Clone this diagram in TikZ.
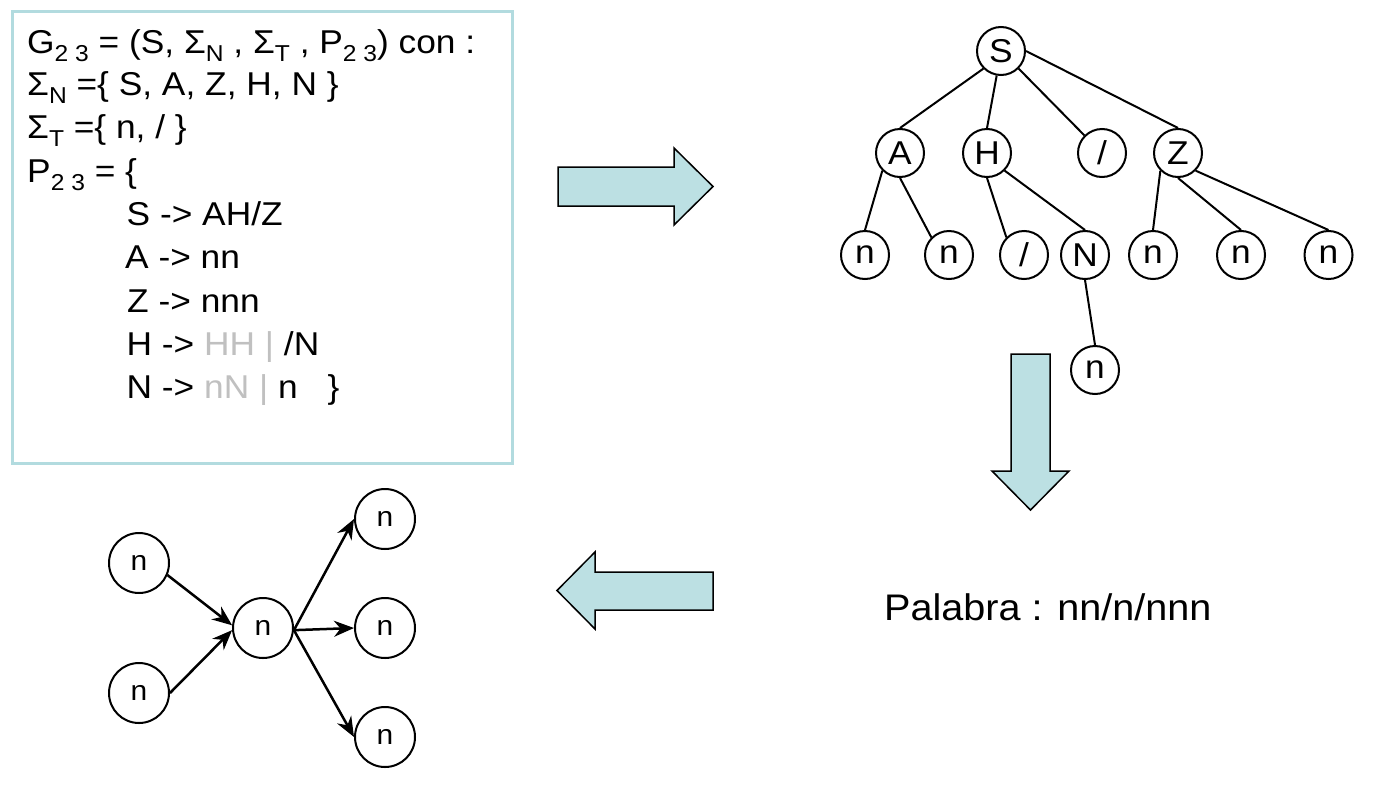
\documentclass[tikz,border=0pt]{standalone}
\usepackage{fontspec}
\setmainfont{Liberation Sans}[FakeStretch=1.07]
\usetikzlibrary{arrows.meta}
\definecolor{boxblue}{RGB}{178,219,223}
\definecolor{arrfill}{RGB}{188,224,227}
\definecolor{lightgr}{RGB}{192,192,192}
\newcommand\subx[1]{\raisebox{-8pt}{\fontsize{23pt}{23pt}\selectfont #1}}
\begin{document}
\begin{tikzpicture}[x=1pt,y=-1pt,
 boxtext/.style={anchor=base west, inner sep=0, font=\fontsize{33pt}{40pt}\selectfont},
 tnode/.style={circle, draw, line width=2pt, minimum size=48pt, inner sep=0, font=\fontsize{33pt}{33pt}\selectfont},
 gnode/.style={circle, draw, line width=2pt, minimum size=60pt, inner sep=0, font=\fontsize{28pt}{28pt}\selectfont},
 tedge/.style={line width=2pt},
 gedge/.style={line width=2.5pt, -{Stealth[length=20pt,width=16pt]}},
 blockarrow/.style={draw=black, fill=arrfill, line width=1.5pt, line join=miter}]
\useasboundingbox (0,0) rectangle (1380,790);
\fill[white] (0,0) rectangle (1380,790);

% grammar box
\draw[boxblue, line width=3pt] (12,11) rectangle (512,463);
\node[boxtext] (l1) at (27,53) {G\subx{2 3} = (S, Σ\subx{N} , Σ\subx{T} , P\subx{2 3}) con :};
\node[boxtext] (l2) at (27,95.5) {Σ\subx{N} =\{ S, A, Z, H, N \}};
\node[boxtext] (l3) at (27,138.5) {Σ\subx{T} =\{ n, / \}};
\node[boxtext] (l4) at (27,182) {P\subx{2 3} = \{};
\node[boxtext] (l5) at (126.5,225) {S -> AH/Z};
\node[boxtext] (l6) at (125,268) {A -> nn};
\node[boxtext] (l7) at (127,312) {Z -> nnn};
\node[boxtext] (l8) at (126.5,355) {H -> {\color{lightgr}HH |} /N};
\node[boxtext] (l9) at (126.5,398) {N -> {\color{lightgr}nN |} n\hspace*{30pt}\}};

% block arrows
\draw[blockarrow] (558,167) -- (674,167) -- (674,148) -- (713,186.5) -- (674,225) -- (674,206) -- (558,206) -- cycle;
\draw[blockarrow] (1011,354) -- (1050,354) -- (1050,471) -- (1069,471) -- (1030.5,510) -- (992,471) -- (1011,471) -- cycle;
\draw[blockarrow] (713,572) -- (595,572) -- (595,552) -- (557,590.5) -- (595,629) -- (595,610) -- (713,610) -- cycle;

% tree
\node[tnode] (S) at (1001,51) {S};
\node[tnode] (A) at (900,153) {A};
\node[tnode] (H) at (987,153) {H};
\node[tnode] (sl1) at (1102,153) {/};
\node[tnode] (Z) at (1178,153) {Z};
\node[tnode] (n1) at (865,255) {n};
\node[tnode] (n2) at (949,255) {n};
\node[tnode] (sl2) at (1024,255) {/};
\node[tnode] (N) at (1085,255) {N};
\node[tnode] (n3) at (1153,255) {n};
\node[tnode] (n4) at (1241,255) {n};
\node[tnode] (n5) at (1328.5,255) {n};
\node[tnode] (n6) at (1095,370) {n};
\draw[tedge] (S.south west) -- (A.north);
\draw[tedge] (S.260) -- (H.north);
\draw[tedge] (S.south east) -- (sl1.north west);
\draw[tedge] (S.east) -- (Z.north);
\draw[tedge] (A.south west) -- (n1.north);
\draw[tedge] (A.south) -- (n2.north west);
\draw[tedge] (H.south) -- (sl2.north west);
\draw[tedge] (H.south east) -- (N.north);
\draw[tedge] (Z.south west) -- (n3.north);
\draw[tedge] (Z.south) -- (n4.north);
\draw[tedge] (Z.south east) -- (n5.north);
\draw[tedge] (N.south) -- (n6.north);

% word
\node[anchor=base west, inner sep=0, font=\fontsize{37pt}{37pt}\selectfont] (pal) at (884,620) {Palabra : nn/n/nnn};

% graph
\node[gnode] (L1) at (139,563) {n};
\node[gnode] (L2) at (139,693) {n};
\node[gnode] (C) at (263,628) {n};
\node[gnode] (R1) at (385,519) {n};
\node[gnode] (R2) at (385,628) {n};
\node[gnode] (R3) at (385,737) {n};
\draw[gedge] (L1.-23) -- (C.175);
\draw[gedge] (L2.east) -- (C.184);
\draw[gedge] (C.-4) -- (R1.west);
\draw[gedge] (C.-4) -- (R2.west);
\draw[gedge] (C.-4) -- (R3.west);
\end{tikzpicture}
\end{document}
